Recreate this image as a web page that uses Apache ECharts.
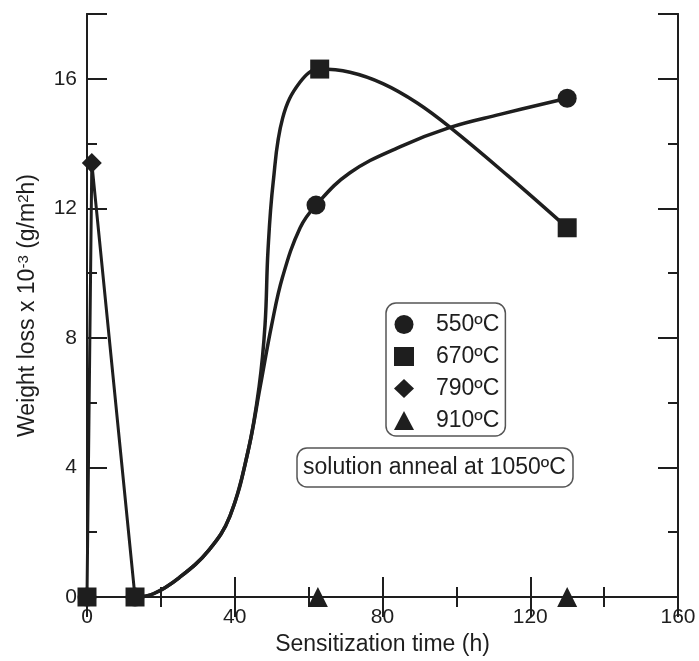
<!DOCTYPE html>
<html>
<head>
<meta charset="utf-8">
<script src="https://cdn.jsdelivr.net/npm/echarts@6/dist/echarts.min.js"></script>
<style>
  html, body { margin: 0; padding: 0; background: #fff; }
  #chart { width: 699px; height: 661px; }
</style>
</head>
<body>
<div id="chart"></div>
<script>
// measured points (time h, weight loss x 1e-3 g/m2h)
const pts550 = [[0, 0], [13, 0], [62, 12.1], [130, 15.4]];
const pts670 = [[0, 0], [13, 0], [63, 16.3], [130, 11.4]];
const pts790 = [[1.3, 13.4]];
const pts910 = [[62.5, 0], [130, 0]];

// hand drawn curves
const curve550 = [[13, 0], [18, 0.1], [25, 0.6], [33, 1.45], [38.7, 2.5], [43.6, 4.5], [46.9, 6.5],
  [50, 8.4], [53, 9.9], [57.7, 11.4], [62, 12.1], [71.2, 13.1], [84.7, 13.9], [98.3, 14.5],
  [111.8, 14.9], [130, 15.4]];
const curve670 = [[13, 0], [18, 0.1], [25, 0.6], [33, 1.45], [38.7, 2.5], [43.6, 4.5], [46.6, 6.5],
  [48.2, 8.4], [49, 10.7], [50.4, 12.8], [53, 14.8], [57.7, 15.9], [63, 16.3], [71.2, 16.2],
  [80.1, 15.85], [89.3, 15.26], [98.3, 14.5], [114, 13.0], [130, 11.4]];
const line790 = [[0, 0], [1.3, 13.4], [13, 0]];

const legendNames = ['550ºC', '670ºC', '790ºC', '910ºC'];
const legendIcons = ['circle', 'rect', 'diamond', 'triangle'];

const ink = '#1e1e1e';
const font = 'Liberation Sans';

const chart = echarts.init(document.getElementById('chart'));

function yAx(pos, interval, tickLen, labels) {
  return {
    type: 'value', position: pos, min: 0, max: 18, interval: interval,
    axisLine: { show: true, lineStyle: { color: ink, width: 2 } },
    axisTick: { show: true, inside: true, length: tickLen, lineStyle: { color: ink, width: 2 } },
    axisLabel: {
      show: labels, color: ink, fontSize: 21, fontFamily: font, margin: 10,
      formatter: v => (v % 4 === 0 && v <= 16) ? String(v) : ''
    },
    splitLine: { show: false }
  };
}

function xAx(pos, labels) {
  return {
    type: 'value', position: pos, min: 0, max: 160, interval: 40,
    axisLine: { show: true, lineStyle: { color: ink, width: 2 } },
    axisTick: { show: true, inside: true, length: 20, lineStyle: { color: ink, width: 2 } },
    minorTick: { show: true, splitNumber: 2, length: 10, lineStyle: { color: ink, width: 2 } },
    axisLabel: { show: labels, color: ink, fontSize: 21, fontFamily: font, margin: 10 },
    splitLine: { show: false }
  };
}

const xBottom = xAx('bottom', true);
xBottom.name = 'Sensitization time (h)';
xBottom.nameLocation = 'middle';
xBottom.nameGap = 36;
xBottom.nameTextStyle = { color: ink, fontSize: 23, fontFamily: font };

const yLeft = yAx('left', 2, 10, true);
yLeft.name = 'Weight loss x 10{sup|-3} (g/m{sup|2}h)';
yLeft.nameLocation = 'middle';
yLeft.nameGap = 47;
yLeft.nameTextStyle = {
  color: ink, fontSize: 23, fontFamily: font,
  rich: { sup: { color: ink, fontSize: 15, fontFamily: font, verticalAlign: 'top', lineHeight: 24 } }
};

function markSeries(name, data, symbol, size) {
  return {
    name: name, type: 'scatter', data: data, symbol: symbol, symbolSize: size,
    itemStyle: { color: ink, opacity: 1 }, z: 5
  };
}

function curveSeries(data, smooth, width) {
  return {
    type: 'line', data: data, smooth: smooth, showSymbol: false,
    lineStyle: { color: ink, width: width }, silent: true, z: 3
  };
}

chart.setOption({
  animation: false,
  backgroundColor: '#fff',
  grid: { left: 87, right: 21, top: 14, bottom: 61 },
  xAxis: [xBottom, xAx('top', false)],
  yAxis: [
    yLeft,
    yAx('left', 4, 20, false),
    yAx('right', 2, 10, false),
    yAx('right', 4, 20, false)
  ],
  title: {
    text: 'solution anneal at 1050ºC',
    left: 297, top: 448,
    padding: [8, 7, 8, 6],
    borderColor: '#555', borderWidth: 1.5, borderRadius: 10,
    textStyle: { color: ink, fontSize: 23, fontWeight: 'normal', fontFamily: font }
  },
  legend: {
    orient: 'vertical', left: 386, top: 303,
    padding: [10, 6, 4, 8],
    itemWidth: 20, itemHeight: 19, itemGap: 9,
    borderColor: '#555', borderWidth: 1.5, borderRadius: 10,
    selectedMode: false,
    textStyle: { color: ink, fontSize: 23, fontFamily: font, lineHeight: 22, padding: [0, 0, 0, 17] },
    data: legendNames.map((n, i) => ({ name: n, icon: legendIcons[i], itemStyle: { color: ink, opacity: 1 } }))
  },
  series: [
    curveSeries(curve550, 0.4, 3.5),
    curveSeries(curve670, 0.4, 3.5),
    curveSeries(line790, false, 3),
    markSeries(legendNames[0], pts550, 'circle', 19),
    markSeries(legendNames[2], pts790, 'diamond', 20),
    markSeries(legendNames[1], pts670, 'rect', 19),
    markSeries(legendNames[3], pts910, 'triangle', 20)
  ]
});
</script>
</body>
</html>
